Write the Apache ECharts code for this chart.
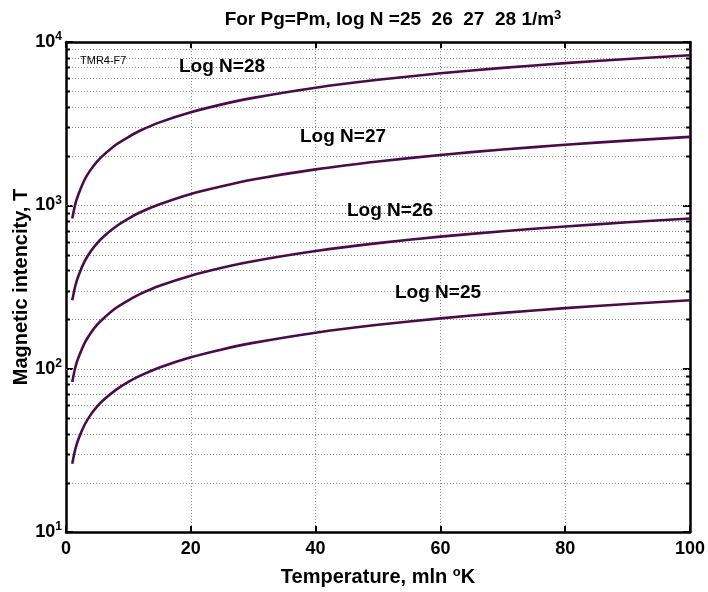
<!DOCTYPE html>
<html>
<head>
<meta charset="utf-8">
<script src="https://cdn.jsdelivr.net/npm/echarts@6/dist/echarts.min.js"></script>
<style>html,body{margin:0;padding:0;background:#fff}#c{width:708px;height:592px}</style>
</head>
<body>
<div id="c"></div>
<script>
// Temperature, mln K
const temps = [1, 1.5, 2, 3, 4, 5, 6, 8, 10, 12, 15, 20, 25, 30, 40, 50, 60, 70, 80, 90, 100];
// Magnetic intensity, T
const logN28 = [830, 1020, 1170, 1440, 1660, 1860, 2030, 2350, 2620, 2880, 3220, 3710, 4150, 4550, 5250, 5870, 6430, 6940, 7420, 7870, 8300];
const logN27 = [262, 322, 371, 455, 525, 587, 643, 742, 830, 910, 1015, 1175, 1310, 1440, 1660, 1855, 2035, 2195, 2350, 2490, 2625];
const logN26 = [83, 102, 117, 144, 166, 186, 203, 235, 262, 288, 322, 371, 415, 455, 525, 587, 643, 694, 742, 787, 830];
const logN25 = [26.2, 32.2, 37.1, 45.5, 52.5, 58.7, 64.3, 74.2, 83, 90.9, 101.7, 117.4, 131.2, 143.8, 166, 185.6, 203.3, 219.6, 234.8, 249, 262.5];
const seriesNames = ['Log N=28', 'Log N=27', 'Log N=26', 'Log N=25'];
const xTicks = [0, 20, 40, 60, 80, 100];
const yMajor = [10, 100, 1000, 10000];
const yMinor = [20, 30, 40, 50, 60, 70, 80, 90, 200, 300, 400, 500, 600, 700, 800, 900, 2000, 3000, 4000, 5000, 6000, 7000, 8000, 9000];
const yInnerMajor = [100, 1000];

const FONT = '"Liberation Sans", Arial, sans-serif';
const lineColor = '#4b0b4b';
const toPairs = arr => temps.map((t, i) => [t, arr[i]]);

const chart = echarts.init(document.getElementById('c'), null, {renderer: 'canvas'});

function gridItem(params, api, val, tickLen, drawLine) {
  const cs = params.coordSys;
  const p = api.coord([0, val]);
  const y = Math.round(p[1]) + 0.5;
  const children = [];
  if (drawLine) {
    children.push({type: 'line', shape: {x1: cs.x, y1: y, x2: cs.x + cs.width, y2: y},
      style: {stroke: '#8a8a8a', lineWidth: 1, lineDash: [1, 2]}, silent: true});
  }
  if (tickLen > 0) {
    children.push({type: 'line', shape: {x1: cs.x, y1: y, x2: cs.x + tickLen, y2: y},
      style: {stroke: '#000', lineWidth: 2}});
    children.push({type: 'line', shape: {x1: cs.x + cs.width - tickLen, y1: y, x2: cs.x + cs.width, y2: y},
      style: {stroke: '#000', lineWidth: 2}});
  }
  return {type: 'group', children};
}

const lineSeries = [logN28, logN27, logN26, logN25].map((arr, i) => ({
  name: seriesNames[i], type: 'line', data: toPairs(arr), showSymbol: false, symbol: 'none',
  smooth: 0.25, lineStyle: {color: lineColor, width: 2.6}, z: 5, animation: false
}));

const labelStyle = {fontFamily: FONT, fontWeight: 'bold', fontSize: 19, fill: '#000', align: 'center', verticalAlign: 'middle'};

const option = {
  animation: false,
  backgroundColor: '#fff',
  grid: {left: 66, right: 18, top: 42, bottom: 59, show: false},
  xAxis: [{
    type: 'value', min: 0, max: 100, interval: 20, position: 'bottom',
    axisLine: {show: true, onZero: false, lineStyle: {color: '#000', width: 2.5}},
    axisTick: {show: true, inside: true, length: 6, lineStyle: {color: '#000', width: 2}},
    axisLabel: {color: '#000', fontFamily: FONT, fontWeight: 'bold', fontSize: 18, margin: 8},
    splitLine: {show: true, lineStyle: {color: '#8a8a8a', width: 1, type: [1, 2]}},
    name: 'Temperature, mln {s|o}K', nameLocation: 'middle', nameGap: 34, nameMoveOverlap: false,
    nameTextStyle: {color: '#000', fontFamily: FONT, fontWeight: 'bold', fontSize: 20,
      rich: {s: {fontFamily: FONT, fontWeight: 'bold', fontSize: 13, verticalAlign: 'top', padding: [0, 0, 9, 0], color: '#000'}}}
  }, {
    type: 'value', min: 0, max: 100, interval: 20, position: 'top',
    axisLine: {show: true, onZero: false, lineStyle: {color: '#000', width: 2.5}},
    axisTick: {show: true, inside: true, length: 6, lineStyle: {color: '#000', width: 2}},
    axisLabel: {show: false}, splitLine: {show: false}
  }],
  yAxis: [{
    type: 'log', logBase: 10, min: 10, max: 10000, position: 'left',
    axisLine: {show: true, onZero: false, lineStyle: {color: '#000', width: 2.5}},
    axisTick: {show: true, inside: true, length: 7, lineStyle: {color: '#000', width: 2}},
    axisLabel: {
      color: '#000', fontFamily: FONT, fontWeight: 'bold', fontSize: 18, margin: 4,
      formatter: v => '10{s|' + Math.round(Math.log10(v)) + '}',
      rich: {s: {fontFamily: FONT, fontWeight: 'bold', fontSize: 12, color: '#000', verticalAlign: 'top', padding: [0, 0, 10, 0]}}
    },
    splitLine: {show: false},
    name: 'Magnetic intencity, T', nameLocation: 'middle', nameGap: 35, nameRotate: 90, nameMoveOverlap: false,
    nameTextStyle: {color: '#000', fontFamily: FONT, fontWeight: 'bold', fontSize: 20}
  }, {
    type: 'log', logBase: 10, min: 10, max: 10000, position: 'right',
    axisLine: {show: true, onZero: false, lineStyle: {color: '#000', width: 2.5}},
    axisTick: {show: true, inside: true, length: 7, lineStyle: {color: '#000', width: 2}},
    axisLabel: {show: false}, splitLine: {show: false}
  }],
  graphic: [
    {type: 'text', x: 393, y: 20, silent: true,
     style: {text: '{a|For Pg=Pm, log N =25  26  27  28 1/m}{s|3}', align: 'center', verticalAlign: 'middle',
       rich: {a: {fontFamily: FONT, fontWeight: 'bold', fontSize: 19, fill: '#000'},
              s: {fontFamily: FONT, fontWeight: 'bold', fontSize: 13, fill: '#000', verticalAlign: 'top', padding: [0, 0, 10, 0]}}}},
    {type: 'text', x: 80, y: 55, silent: true, z: 10,
     style: {text: 'TMR4-F7', fontFamily: FONT, fontSize: 11, fill: '#000'}},
    {type: 'text', x: 222, y: 67, silent: true, z: 10, style: Object.assign({text: seriesNames[0]}, labelStyle)},
    {type: 'text', x: 343, y: 137, silent: true, z: 10, style: Object.assign({text: seriesNames[1]}, labelStyle)},
    {type: 'text', x: 390, y: 211, silent: true, z: 10, style: Object.assign({text: seriesNames[2]}, labelStyle)},
    {type: 'text', x: 438, y: 293, silent: true, z: 10, style: Object.assign({text: seriesNames[3]}, labelStyle)}
  ],
  series: [
    {type: 'custom', name: 'minorGrid', data: yMinor.map(v => [v]), z: 1, silent: true,
     renderItem: (params, api) => gridItem(params, api, api.value(0), 4, true), encode: {y: 0}},
    {type: 'custom', name: 'majorGrid', data: yInnerMajor.map(v => [v]), z: 1, silent: true,
     renderItem: (params, api) => gridItem(params, api, api.value(0), 0, true), encode: {y: 0}},
    ...lineSeries
  ]
};
chart.setOption(option);
</script>
</body>
</html>
